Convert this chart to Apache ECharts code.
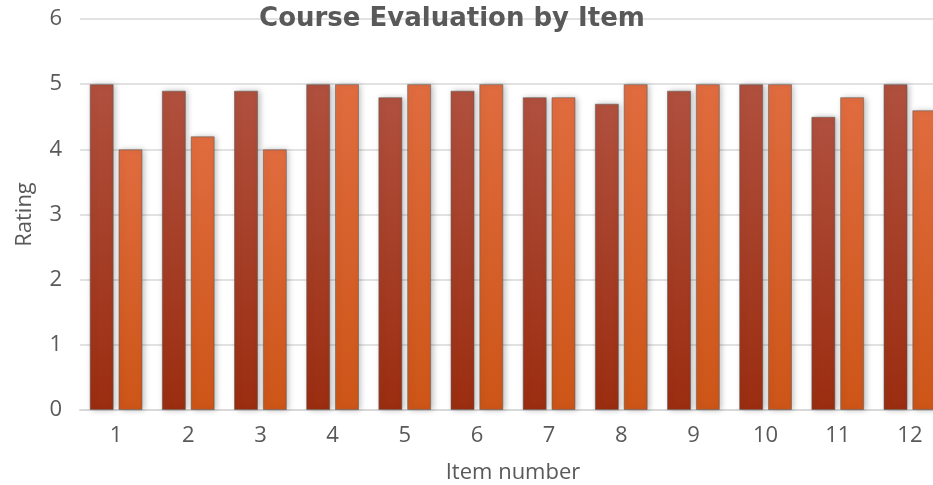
<!DOCTYPE html>
<html><head><meta charset="utf-8">
<script src="https://cdn.jsdelivr.net/npm/echarts@6/dist/echarts.min.js"></script>
<style>html,body{margin:0;padding:0;background:#fff}#c{width:933px;height:485px}</style>
</head><body><div id="c"></div>
<script>
const categories = ['1','2','3','4','5','6','7','8','9','10','11','12'];
const seriesA = [5, 4.9, 4.9, 5, 4.8, 4.9, 4.8, 4.7, 4.9, 5, 4.5, 5];
const seriesB = [4, 4.2, 4, 5, 5, 5, 4.8, 5, 5, 5, 4.8, 4.6];
const yTicks = [0, 1, 2, 3, 4, 5, 6];

const chart = echarts.init(document.getElementById('c'));
function grad(top, bottom) {
  return new echarts.graphic.LinearGradient(0, 0, 0, 1, [
    {offset: 0, color: top}, {offset: 1, color: bottom}]);
}
const common = {
  borderColor: 'rgba(90,90,90,0.55)', borderWidth: 1,
  shadowBlur: 6, shadowColor: 'rgba(0,0,0,0.25)', shadowOffsetX: 2, shadowOffsetY: 0
};
const lbl = {fontFamily: 'Open Sans', fontSize: 22, color: '#595959'};
chart.setOption({
  animation: false,
  title: {text: 'Course Evaluation by Item', left: 447, top: 1, textAlign: 'center',
    textStyle: {fontFamily: 'DejaVu Sans', fontWeight: 'bold', fontSize: 26, color: '#595959'}},
  grid: {left: 80, top: 19, width: 866, height: 391, outerBoundsMode: 'none', containLabel: false},
  xAxis: {type: 'category', data: categories, name: 'Item number', nameLocation: 'middle', nameGap: 52,
    nameTextStyle: lbl,
    axisLine: {lineStyle: {color: '#d9d9d9', width: 2}}, axisTick: {show: false},
    axisLabel: Object.assign({margin: 15}, lbl)},
  yAxis: {type: 'value', min: yTicks[0], max: yTicks[yTicks.length-1], interval: 1,
    name: 'Rating', nameLocation: 'middle', nameGap: 44,
    nameTextStyle: lbl,
    axisLine: {show: false}, axisTick: {show: false},
    axisLabel: Object.assign({margin: 18}, lbl),
    splitLine: {lineStyle: {color: '#d9d9d9', width: 1.5}}},
  series: [
    {type: 'bar', data: seriesA, barWidth: 24, barGap: '20%',
     itemStyle: Object.assign({color: grad('#b0503e', '#9b2d10')}, common)},
    {type: 'bar', data: seriesB, barWidth: 24,
     itemStyle: Object.assign({color: grad('#e06c3f', '#cd5517')}, common)}
  ]
});
</script></body></html>
